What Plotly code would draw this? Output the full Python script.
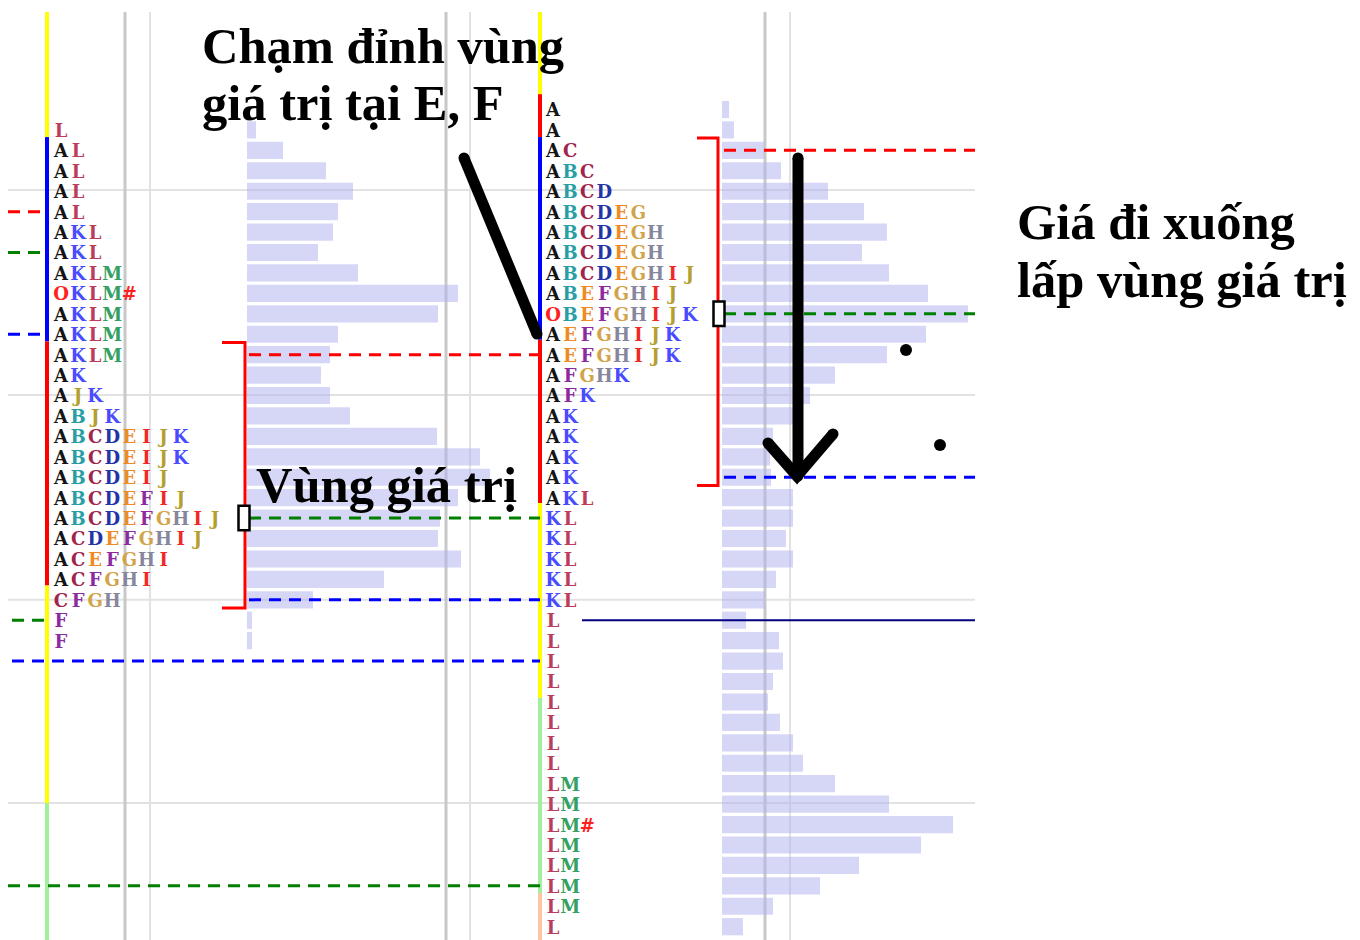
import plotly.graph_objects as go

# ---------------- data ----------------
# price rows (0 = top row of the second session), one row = one tick
left_rows = list(range(1, 27))
left_tpo = ["L", "AL", "AL", "AL", "AL", "AKL", "AKL", "AKLM", "OKLM#", "AKLM", "AKLM", "AKLM",
            "AK", "AJK", "ABJK", "ABCDEIJK", "ABCDEIJK", "ABCDEIJ", "ABCDEFIJ", "ABCDEFGHIJ",
            "ACDEFGHIJ", "ACEFGHI", "ACFGHI", "CFGH", "F", "F"]
left_volume = [9, 36, 79, 106, 91, 86, 71, 111, 211, 191, 91, 83, 74, 83, 103, 190, 233, 243,
               211, 193, 191, 214, 137, 66, 5, 5]

right_rows = list(range(0, 41))
right_tpo = ["A", "A", "AC", "ABC", "ABCD", "ABCDEG", "ABCDEGH", "ABCDEGH", "ABCDEGHIJ",
             "ABEFGHIJ", "OBEFGHIJK", "AEFGHIJK", "AEFGHIJK", "AFGHK", "AFK", "AK", "AK", "AK",
             "AK", "AKL", "KL", "KL", "KL", "KL", "KL", "L", "L", "L", "L", "L", "L", "L", "L",
             "LM", "LM", "LM#", "LM", "LM", "LM", "LM", "L"]
right_volume = [7, 12, 42, 59, 106, 142, 165, 140, 167, 206, 246, 204, 165, 113, 88, 71, 51, 48,
                49, 71, 71, 64, 71, 54, 43, 24, 57, 61, 51, 46, 58, 71, 81, 113, 167, 231, 199,
                137, 98, 51, 21]

period_colors = {"A": "#141414", "B": "#2a9ea6", "C": "#a0244c", "D": "#2434a8",
                 "E": "#f08a24", "F": "#8c2aa0", "G": "#d2a44a", "H": "#86869c",
                 "I": "#f02828", "J": "#b4a030", "K": "#4a4aff", "L": "#bc3c5c",
                 "M": "#34a064", "O": "#ff2020", "#": "#ff2020"}

# value areas (row of VAH, POC, VAL)
left_va = (12, 20, 24)
right_va = (2, 10, 18)

# reference levels: (row, x from, x to, colour)
ref_levels = [(5, 8, 47, "#ff0000"), (7, 8, 47, "#008000"), (11, 8, 47, "#0000ff"),
              (12, 249, 540, "#ff0000"), (20, 249, 540, "#008000"), (24, 249, 540, "#0000ff"),
              (25, 12, 47, "#008000"), (27, 12, 540, "#0000ff"), (38, 8, 540, "#008000"),
              (2, 724, 975, "#ff0000"), (10, 724, 975, "#008000"), (18, 724, 975, "#0000ff")]

# session colour strip segments: (row from, row to, colour)
left_strip = [(-4.77, 1.35, "#ffff00"), (1.35, 11.35, "#0000ff"), (11.35, 23.3, "#ff0000"),
              (23.3, 33.95, "#ffff00"), (33.95, 40.7, "#a0f0a0")]
right_strip = [(-4.77, -0.75, "#ffff00"), (-0.75, 1.35, "#ff0000"), (1.35, 11.27, "#0000ff"),
               (11.27, 19.26, "#ff0000"), (19.26, 28.8, "#ffff00"), (28.8, 38.35, "#a0f0a0"),
               (38.35, 40.7, "#ffc4a4")]

grid_rows = [3.94, 13.97, 24.0, 33.95]
grid_cols = [(125, "#c8c8c8", 3), (150, "#e2e2e2", 2), (446, "#c8c8c8", 3),
             (470, "#e2e2e2", 2), (765, "#c8c8c8", 3), (790, "#e2e2e2", 2)]

# ---------------- geometry ----------------
W, H = 1360, 940
ROW_Y0, ROW_H = 109.5, 20.43


def row_of(py):
    return (py - ROW_Y0) / ROW_H


LEFT_LETTER_X, RIGHT_LETTER_X, PITCH = 61, 553, 17.1
LEFT_HIST_X, RIGHT_HIST_X = 247, 722
LEFT_STRIP_X, RIGHT_STRIP_X = 47, 540
LETTER_DY = 0.12

fig = go.Figure()

# histogram bars
for rows, vols, base in [(left_rows, left_volume, LEFT_HIST_X),
                         (right_rows, right_volume, RIGHT_HIST_X)]:
    fig.add_trace(go.Bar(orientation="h", y=rows, x=vols, base=base, width=0.84,
                         marker=dict(color="rgba(176,176,240,0.52)", line=dict(width=0)),
                         hoverinfo="skip", showlegend=False))

# colour strips
for segs, xs in [(left_strip, LEFT_STRIP_X), (right_strip, RIGHT_STRIP_X)]:
    for a, b, c in segs:
        fig.add_trace(go.Scatter(x=[xs, xs], y=[a, b], mode="lines",
                                 line=dict(color=c, width=4), hoverinfo="skip",
                                 showlegend=False))

# reference dashed levels
for r, x0, x1, c in ref_levels:
    fig.add_trace(go.Scatter(x=[x0, x1], y=[r, r], mode="lines",
                             line=dict(color=c, width=3, dash="12px,8px"),
                             hoverinfo="skip", showlegend=False))

# navy level
fig.add_trace(go.Scatter(x=[582, 975], y=[25, 25], mode="lines",
                         line=dict(color="#000080", width=2), hoverinfo="skip",
                         showlegend=False))

# value area brackets
for (vah, poc, val), xb, xt in [(left_va, 245, 222), (right_va, 718, 697)]:
    top, bot = vah - 0.6, val + 0.4
    fig.add_trace(go.Scatter(x=[xt, xb, xb, xt], y=[top, top, bot, bot], mode="lines",
                             line=dict(color="#ff0000", width=3), hoverinfo="skip",
                             showlegend=False))

# TPO letters
letters = {}
for rows, tpos, x0 in [(left_rows, left_tpo, LEFT_LETTER_X),
                       (right_rows, right_tpo, RIGHT_LETTER_X)]:
    for r, s in zip(rows, tpos):
        for i, ch in enumerate(s):
            letters.setdefault(ch, ([], []))
            letters[ch][0].append(x0 + i * PITCH)
            letters[ch][1].append(r + LETTER_DY)
for ch, (xs, ys) in letters.items():
    fig.add_trace(go.Scatter(x=xs, y=ys, mode="text", text=[ch] * len(xs),
                             textposition="middle center",
                             textfont=dict(family="DejaVu Serif", size=18, weight="bold",
                                           color=period_colors[ch]),
                             hoverinfo="skip", showlegend=False))

# arrows and dots (annotation drawings)
arrow_paths = [([464, 537], [158, 334]),
               ([798, 798], [158, 476]),
               ([768, 797, 833], [443, 476, 434])]
for xs, ys in arrow_paths:
    fig.add_trace(go.Scatter(x=xs, y=[row_of(v) for v in ys], mode="lines+markers",
                             line=dict(color="black", width=11),
                             marker=dict(color="black", size=11),
                             hoverinfo="skip", showlegend=False))
fig.add_trace(go.Scatter(x=[906, 940], y=[row_of(350), row_of(445)], mode="markers",
                         marker=dict(color="black", size=12), hoverinfo="skip",
                         showlegend=False))

shapes = []
for r in grid_rows:
    shapes.append(dict(type="line", xref="x", yref="y", x0=8, x1=975, y0=r, y1=r,
                       line=dict(color="#e2e2e2", width=2), layer="below"))
for x, c, w in grid_cols:
    shapes.append(dict(type="line", xref="x", yref="y", x0=x, x1=x, y0=row_of(12),
                       y1=row_of(940), line=dict(color=c, width=w), layer="below"))
for (vah, poc, val), xb in [(left_va, 244), (right_va, 719)]:
    shapes.append(dict(type="rect", xref="x", yref="y", x0=xb - 5.5, x1=xb + 5.5,
                       y0=poc - 0.6, y1=poc + 0.6, fillcolor="white",
                       line=dict(color="black", width=2.5)))

font_big = dict(family="Liberation Serif", size=50.5, color="black")
texts = [("Chạm đỉnh vùng", 200, 46), ("giá trị tại E, F", 200, 103),
         ("Vùng giá trị", 254, 485), ("Giá đi xuống", 1015, 222),
         ("lấp vùng giá trị", 1015, 280)]
annotations = [dict(text="<b>%s</b>" % t, x=x, y=row_of(y), xref="x", yref="y",
                    xanchor="left", yanchor="middle", showarrow=False, font=font_big)
               for t, x, y in texts]

fig.update_layout(width=W, height=H, margin=dict(l=0, r=0, t=0, b=0),
                  paper_bgcolor="white", plot_bgcolor="white", barmode="overlay",
                  showlegend=False, shapes=shapes, annotations=annotations,
                  xaxis=dict(range=[0, W], visible=False, fixedrange=True),
                  yaxis=dict(range=[row_of(H), row_of(0)], visible=False, fixedrange=True))

fig.write_html("out.html", config={"displayModeBar": False, "staticPlot": True},
               post_script="document.body.style.margin='0px';"
                           "document.body.style.overflow='hidden';")
